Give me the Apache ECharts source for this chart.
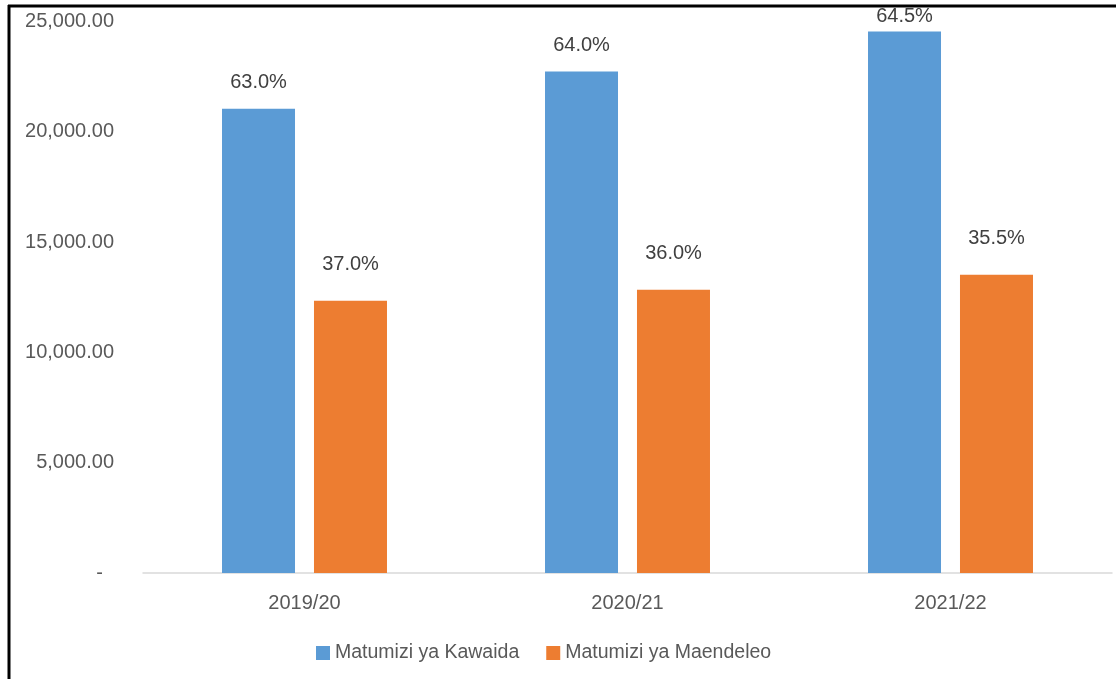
<!DOCTYPE html>
<html>
<head>
<meta charset="utf-8">
<script src="https://cdn.jsdelivr.net/npm/echarts@6/dist/echarts.min.js"></script>
<style>
html,body{margin:0;padding:0;background:#fff;}
#chart{width:1116px;height:679px;}
</style>
</head>
<body>
<div id="chart"></div>
<script>
const categories = ['2019/20', '2020/21', '2021/22'];
const seriesNames = ['Matumizi ya Kawaida', 'Matumizi ya Maendeleo'];
const kawaida = [21050, 22730, 24550];
const maendeleo = [12340, 12840, 13520];
const kawaidaPct = ['63.0%', '64.0%', '64.5%'];
const maendeleoPct = ['37.0%', '36.0%', '35.5%'];
const yTicks = [0, 5000, 10000, 15000, 20000, 25000];

const font = '"Liberation Sans", Arial, sans-serif';
const chart = echarts.init(document.getElementById('chart'), null, {renderer: 'canvas'});

function fmtY(v) {
  if (v === 0) return '-\u00a0\u00a0';
  return v.toLocaleString('en-US', {minimumFractionDigits: 2, maximumFractionDigits: 2});
}

chart.setOption({
  animation: false,
  backgroundColor: '#ffffff',
  textStyle: {fontFamily: font},
  grid: {left: 143, right: 4, top: 21.5, bottom: 106, containLabel: false},
  legend: {
    data: seriesNames,
    left: 311,
    top: 638,
    itemWidth: 14,
    itemHeight: 14,
    itemGap: 27,
    icon: 'rect',
    textStyle: {fontSize: 19.5, color: '#595959', fontFamily: font}
  },
  xAxis: {
    type: 'category',
    data: categories,
    axisLine: {show: true, lineStyle: {color: '#d9d9d9', width: 1.5}},
    axisTick: {show: false},
    axisLabel: {fontSize: 20, color: '#595959', margin: 20, fontFamily: font}
  },
  yAxis: {
    type: 'value',
    min: yTicks[0],
    max: yTicks[yTicks.length - 1],
    interval: yTicks[1] - yTicks[0],
    splitLine: {show: false},
    axisLine: {show: false},
    axisTick: {show: false},
    axisLabel: {fontSize: 20, color: '#595959', margin: 29, formatter: fmtY, fontFamily: font, padding: [5, 0, 0, 0]}
  },
  series: [
    {
      name: seriesNames[0],
      type: 'bar',
      data: kawaida,
      barWidth: 73,
      barGap: '26%',
      itemStyle: {color: '#5B9BD5'},
      label: {
        show: true, position: 'top', distance: 16,
        fontSize: 20, color: '#404040', fontFamily: font,
        formatter: p => kawaidaPct[p.dataIndex]
      },
      labelLayout: function (p) {
        const r = p.labelRect;
        if (r && r.y < 6) return {dy: 6 - r.y};
        return {};
      }
    },
    {
      name: seriesNames[1],
      type: 'bar',
      data: maendeleo,
      barWidth: 73,
      barGap: '26%',
      itemStyle: {color: '#ED7D31'},
      label: {
        show: true, position: 'top', distance: 26,
        fontSize: 20, color: '#404040', fontFamily: font,
        formatter: p => maendeleoPct[p.dataIndex]
      }
    }
  ],
  graphic: [
    {type: 'line', shape: {x1: 8, y1: 6, x2: 1116, y2: 6}, style: {stroke: '#000', lineWidth: 3}, z: 100},
    {type: 'line', shape: {x1: 9, y1: 5, x2: 9, y2: 679}, style: {stroke: '#000', lineWidth: 3}, z: 100}
  ]
});
</script>
</body>
</html>
